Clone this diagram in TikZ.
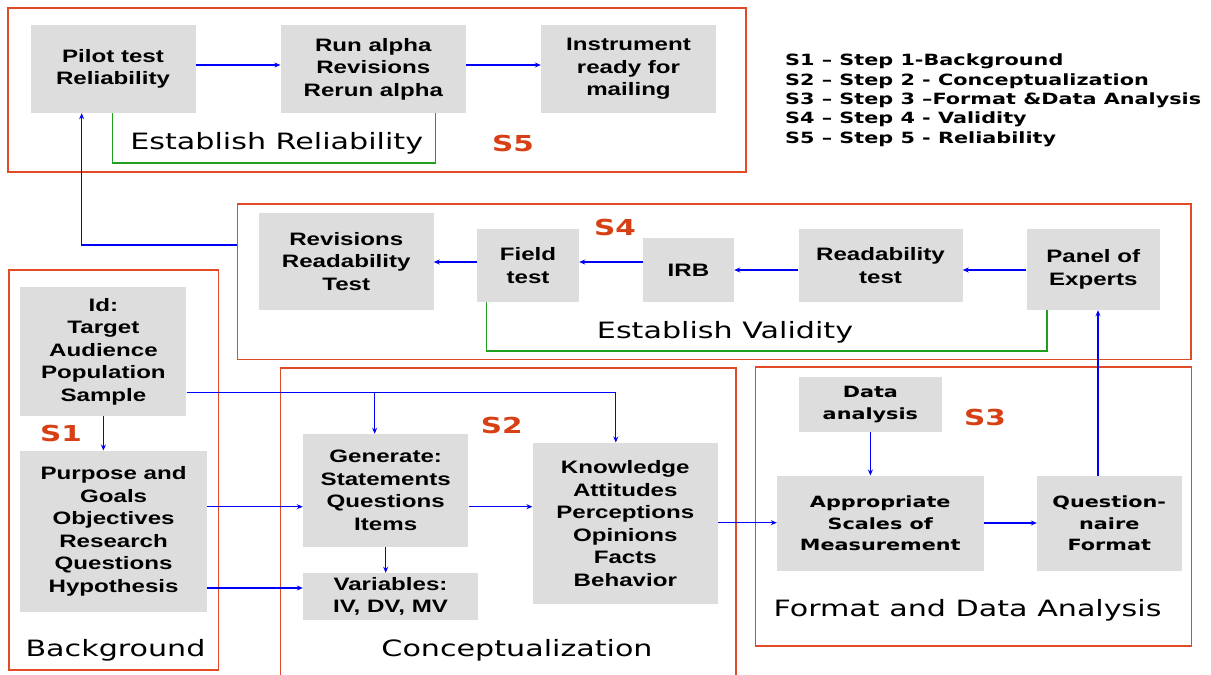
\documentclass[tikz,border=0pt]{standalone}
\usepackage{fontspec}
\usetikzlibrary{arrows.meta}
\newfontfamily\arialish{Liberation Sans}[FakeStretch=1.34]
\newfontfamily\verdish{DejaVu Sans}[FakeStretch=1.34]
\definecolor{boxgray}{RGB}{221,221,221}
\definecolor{stepred}{RGB}{224,74,38}
\definecolor{steplabel}{RGB}{214,64,20}
\definecolor{linkblue}{RGB}{0,0,250}
\definecolor{bracegreen}{RGB}{30,160,30}
\tikzset{
  box/.style={fill=boxgray, inner sep=0pt, align=center,
    font=\arialish\bfseries\fontsize{18}{22.5}\selectfont},
  wbox/.style={box, font=\verdish\bfseries\fontsize{15.5}{21.5}\selectfont},
  sz/.style 2 args={minimum width=#1pt, minimum height=#2pt},
  grp/.style={draw=stepred, line width=1.2pt, inner sep=0pt},
  arr/.style={draw=linkblue, line width=1.1pt, -{Stealth[length=6pt,width=5pt]}},
  brace/.style={draw=bracegreen, line width=1.1pt},
  steptag/.style={text=steplabel, inner sep=0pt,
    font=\verdish\bfseries\fontsize{22}{26}\selectfont},
  phase/.style={inner sep=0pt, font=\verdish\fontsize{22.5}{26}\selectfont},
  legendtext/.style={inner sep=0pt, align=left, anchor=north west,
    font=\verdish\bfseries\fontsize{15.5}{19.3}\selectfont}
}
\begin{document}
\begin{tikzpicture}[x=1pt,y=-1pt]
\fill[white] (0,0) rectangle (1211,675);
\useasboundingbox (0,0) rectangle (1211,675);

% step frames
\node[grp, sz={738}{164}] (s5) at (377,90) {};
\node[grp, sz={953.5}{155.3}] (s4) at (714.25,281.65) {};
\node[grp, sz={209.5}{400}] (s1) at (113.75,470) {};
\node[grp, sz={436}{279}] (s3) at (973.5,506.5) {};
\coordinate (s2nw) at (280.5,368);
\coordinate (s2ne) at (736,368);
\draw[stepred, line width=1.2pt] (s2nw |- 0,675) -- (s2nw) -- (s2ne) -- (s2ne |- 0,675);

% step 5: reliability
\node[box, sz={165}{88}] (pilot) at (113,69) {Pilot test\\Reliability};
\node[box, sz={185.4}{88}] (runa) at (373.3,69) {Run alpha\\Revisions\\Rerun alpha};
\node[box, sz={175}{88}] (instr) at (628.5,69) {Instrument\\ready for\\mailing};

% step 4: validity
\node[box, sz={174.5}{97}] (revis) at (346.25,261.5) {Revisions\\Readability\\Test};
\node[box, sz={102}{73}] (field) at (528,265.5) {Field\\test};
\node[box, sz={91}{64}] (irb) at (688.5,270) {IRB};
\node[box, sz={164}{73}] (readt) at (880.5,265.5) {Readability\\test};
\node[box, sz={133.5}{81}] (panel) at (1093.25,269.5) {Panel of\\Experts};

% step 1: background
\node[box, sz={166}{128.7}] (idbox) at (103.4,351.35) {Id:\\Target\\Audience\\Population\\Sample};
\node[box, sz={186.4}{161}] (purpose) at (113.6,531.2) {Purpose and\\Goals\\Objectives\\Research\\Questions\\Hypothesis};

% step 2: conceptualization
\node[box, sz={165.4}{112.7}] (gen) at (385.7,490.35) {Generate:\\Statements\\Questions\\Items};
\node[box, sz={175}{47}] (vars) at (390.5,596.5) {Variables:\\IV, DV, MV};
\node[box, sz={185.4}{161.3}] (know) at (625.3,523.35) {Knowledge\\Attitudes\\Perceptions\\Opinions\\Facts\\Behavior};

% step 3: format and data analysis
\node[wbox, sz={143.8}{55}] (data) at (870.4,404.5) {Data\\analysis};
\node[wbox, sz={206.5}{95.3}] (approp) at (880.25,523.35) {Appropriate\\Scales of\\Measurement};
\node[wbox, sz={144.5}{95.3}] (quest) at (1109.25,523.35) {Question-\\naire\\Format};

% phase captions and step tags
\node[phase] (relcap) at (276.7,143) {Establish Reliability};
\node[phase] (valcap) at (725,332) {Establish Validity};
\node[phase] (bgcap) at (115.5,650) {Background};
\node[phase] (concap) at (517,650.7) {Conceptualization};
\node[phase] (fmtcap) at (967.5,610.7) {Format and Data Analysis};
\node[steptag] (tag5) at (513,143) {S5};
\node[steptag] (tag4) at (615,227) {S4};
\node[steptag] (tag1) at (61,433) {S1};
\node[steptag] (tag2) at (501.7,425) {S2};
\node[steptag] (tag3) at (985,417) {S3};

% legend
\node[legendtext] (legend) at (785,54) {S1 – Step 1-Background\\S2 – Step 2 - Conceptualization\\S3 – Step 3 –Format \&Data Analysis\\S4 – Step 4 - Validity\\S5 – Step 5 - Reliability};

% green brackets
\draw[brace] (pilot.south -| 112.8,0) |- (435.3,163) -- (runa.south -| 435.3,0);
\draw[brace] (field.south -| 486.7,0) |- (1047,351) -- (panel.south -| 1047,0);

% reliability flow
\draw[arr] (pilot.east |- 0,65) -- (runa.west |- 0,65);
\draw[arr] (runa.east |- 0,65) -- (instr.west |- 0,65);
\draw[arr] (s4.west |- 0,245) -| (pilot.south -| 81.7,0);

% validity flow
\draw[arr] (panel.west |- 0,270) -- (readt.east |- 0,270);
\draw[arr] (readt.west |- 0,270) -- (irb.east |- 0,270);
\draw[arr] (irb.west |- 0,262) -- (field.east |- 0,262);
\draw[arr] (field.west |- 0,262) -- (revis.east |- 0,262);

% background and conceptualization flow
\draw[arr] (idbox.south) -- (purpose.north -| idbox.south);
\draw[arr] (idbox.east |- 0,392.3) -| (know.north -| 615.8,0);
\coordinate (fork) at (374.7,392.3);
\draw[arr] (fork) -- (gen.north -| fork);
\draw[arr] (purpose.east |- 0,506.7) -- (gen.west |- 0,506.7);
\draw[arr] (purpose.east |- 0,588) -- (vars.west |- 0,588);
\draw[arr] (gen.south) -- (vars.north -| gen.south);
\draw[arr] (gen.east |- 0,506.7) -- (know.west |- 0,506.7);

% format flow
\draw[arr] (know.east |- 0,522.7) -- (approp.west |- 0,522.7);
\draw[arr] (data.south) -- (approp.north -| data.south);
\draw[arr] (approp.east |- 0,523) -- (quest.west |- 0,523);
\draw[arr] (quest.north -| 1098,0) -- (panel.south -| 1098,0);
\end{tikzpicture}
\end{document}
